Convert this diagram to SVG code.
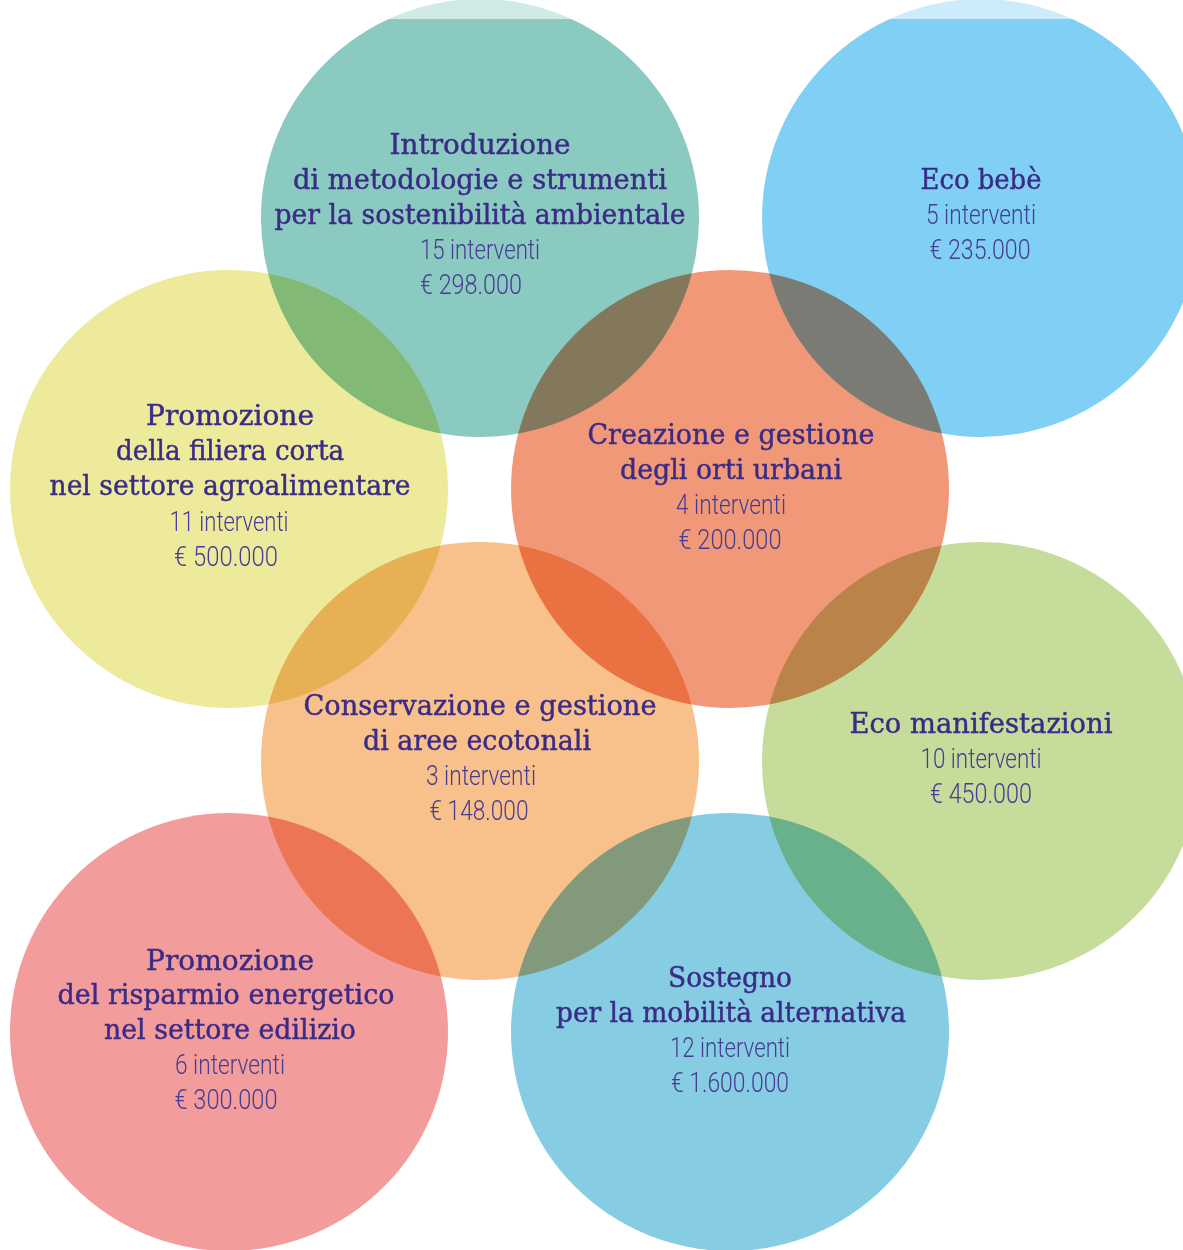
<svg xmlns="http://www.w3.org/2000/svg" width="1183" height="1250" viewBox="0 0 1183 1250">
<style>
.c{mix-blend-mode:multiply}
.t{font-family:"DejaVu Serif","Liberation Serif",serif;font-size:27px;fill:#3A2B86;stroke:#3A2B86;stroke-width:0.45px;text-anchor:middle}
.n{font-family:Roboto,"Liberation Sans",sans-serif;font-weight:300;font-size:27px;fill:#473C93;text-anchor:middle}
</style>
<rect width="1183" height="1250" fill="#ffffff"/>
<g id="connectors"/>
<g id="node-introduzione">
<circle class="c" cx="480" cy="218" r="219" fill="#8BCAC0"/>
<text class="t" x="480" y="154" textLength="181" lengthAdjust="spacingAndGlyphs">Introduzione</text>
<text class="t" x="480" y="189" textLength="374" lengthAdjust="spacingAndGlyphs">di metodologie e strumenti</text>
<text class="t" x="480" y="224" textLength="411" lengthAdjust="spacingAndGlyphs">per la sostenibilità ambientale</text>
<text class="n" x="480" y="259" textLength="120" lengthAdjust="spacingAndGlyphs">15 interventi</text>
<text class="n" x="471" y="294" textLength="102" lengthAdjust="spacingAndGlyphs">€ 298.000</text>
</g>
<g id="node-ecobebe">
<circle class="c" cx="981" cy="218" r="219" fill="#80CFF4"/>
<text class="t" x="981" y="189" textLength="121" lengthAdjust="spacingAndGlyphs">Eco bebè</text>
<text class="n" x="981" y="224" textLength="110" lengthAdjust="spacingAndGlyphs">5 interventi</text>
<text class="n" x="980" y="259" textLength="101" lengthAdjust="spacingAndGlyphs">€ 235.000</text>
</g>
<g id="node-filiera">
<circle class="c" cx="229" cy="489" r="219" fill="#EEEA9C"/>
<text class="t" x="230" y="425" textLength="168" lengthAdjust="spacingAndGlyphs">Promozione</text>
<text class="t" x="230" y="460" textLength="228" lengthAdjust="spacingAndGlyphs">della filiera corta</text>
<text class="t" x="230" y="495" textLength="361" lengthAdjust="spacingAndGlyphs">nel settore agroalimentare</text>
<text class="n" x="229" y="531" textLength="119" lengthAdjust="spacingAndGlyphs">11 interventi</text>
<text class="n" x="226" y="566" textLength="104" lengthAdjust="spacingAndGlyphs">€ 500.000</text>
</g>
<g id="node-orti">
<circle class="c" cx="730" cy="489" r="219" fill="#F19879"/>
<text class="t" x="731" y="444" textLength="287" lengthAdjust="spacingAndGlyphs">Creazione e gestione</text>
<text class="t" x="731" y="479" textLength="222" lengthAdjust="spacingAndGlyphs">degli orti urbani</text>
<text class="n" x="731" y="514" textLength="110" lengthAdjust="spacingAndGlyphs">4 interventi</text>
<text class="n" x="730" y="549" textLength="103" lengthAdjust="spacingAndGlyphs">€ 200.000</text>
</g>
<g id="node-ecotonali">
<circle class="c" cx="480" cy="761" r="219" fill="#F8C08A"/>
<text class="t" x="480" y="715" textLength="353" lengthAdjust="spacingAndGlyphs">Conservazione e gestione</text>
<text class="t" x="477" y="750" textLength="228" lengthAdjust="spacingAndGlyphs">di aree ecotonali</text>
<text class="n" x="481" y="785" textLength="110" lengthAdjust="spacingAndGlyphs">3 interventi</text>
<text class="n" x="479" y="820" textLength="99" lengthAdjust="spacingAndGlyphs">€ 148.000</text>
</g>
<g id="node-manifestazioni">
<circle class="c" cx="981" cy="761" r="219" fill="#C5DC9A"/>
<text class="t" x="981" y="733" textLength="263" lengthAdjust="spacingAndGlyphs">Eco manifestazioni</text>
<text class="n" x="981" y="768" textLength="121" lengthAdjust="spacingAndGlyphs">10 interventi</text>
<text class="n" x="981" y="803" textLength="102" lengthAdjust="spacingAndGlyphs">€ 450.000</text>
</g>
<g id="node-edilizio">
<circle class="c" cx="229" cy="1032" r="219" fill="#F29C9B"/>
<text class="t" x="230" y="970" textLength="168" lengthAdjust="spacingAndGlyphs">Promozione</text>
<text class="t" x="226" y="1004" textLength="337" lengthAdjust="spacingAndGlyphs">del risparmio energetico</text>
<text class="t" x="230" y="1039" textLength="252" lengthAdjust="spacingAndGlyphs">nel settore edilizio</text>
<text class="n" x="230" y="1074" textLength="110" lengthAdjust="spacingAndGlyphs">6 interventi</text>
<text class="n" x="226" y="1109" textLength="103" lengthAdjust="spacingAndGlyphs">€ 300.000</text>
</g>
<g id="node-mobilita">
<circle class="c" cx="730" cy="1032" r="219" fill="#86CDE4"/>
<text class="t" x="730" y="987" textLength="124" lengthAdjust="spacingAndGlyphs">Sostegno</text>
<text class="t" x="731" y="1022" textLength="350" lengthAdjust="spacingAndGlyphs">per la mobilità alternativa</text>
<text class="n" x="730" y="1057" textLength="120" lengthAdjust="spacingAndGlyphs">12 interventi</text>
<text class="n" x="730" y="1092" textLength="118" lengthAdjust="spacingAndGlyphs">€ 1.600.000</text>
</g>
<rect x="0" y="0" width="1183" height="19" fill="#ffffff" fill-opacity="0.6"/>
</svg>
